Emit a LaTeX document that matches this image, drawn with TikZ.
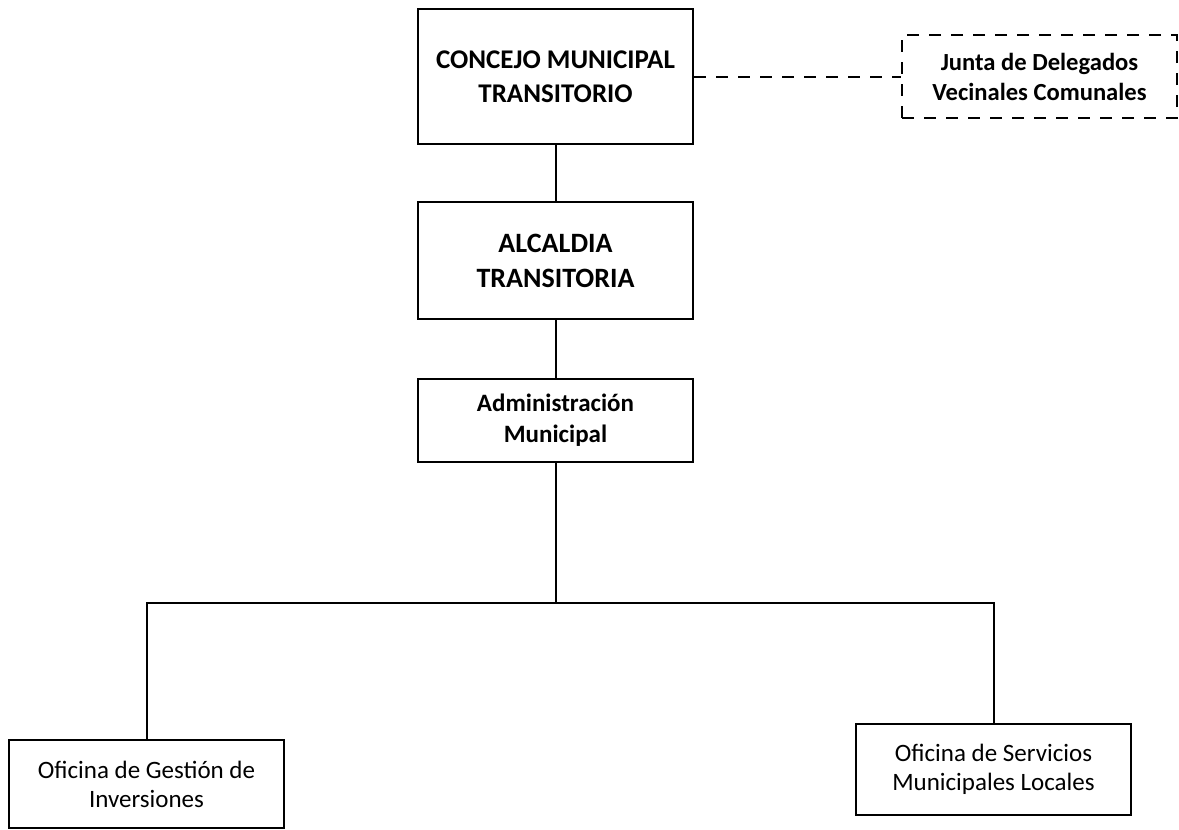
\documentclass[tikz,border=0pt]{standalone}
\usepackage{fontspec}
\setmainfont{Carlito}
\usetikzlibrary{positioning}

\begin{document}
\begin{tikzpicture}[x=0.5pt,y=-0.5pt]
\tikzset{B/.style={draw,line width=1pt,rectangle,minimum width=137.5pt,align=center,inner sep=0pt,font=\bfseries\fontsize{13.5}{17}\selectfont}}
\tikzset{S/.style={B,font=\fontsize{12.5}{14.5}\selectfont}}
\tikzset{J/.style={B,dash pattern=on 6pt off 5pt,font=\bfseries\fontsize{12.3}{15}\selectfont}}

  \useasboundingbox (0,0) rectangle (1179,830);
  \node[B,minimum height=67.5pt] (conc) at (555.5,76.5) {CONCEJO MUNICIPAL\\TRANSITORIO};
  \node[J,minimum height=41.5pt] (junta) at (1039.5,76.5) {Junta de Delegados\\Vecinales Comunales};
  \node[B,minimum height=58.5pt,font=\bfseries\fontsize{14}{17.5}\selectfont] (alc) at (555.5,260.5) {ALCALDIA\\TRANSITORIA};
  \node[B,minimum height=41.5pt,font=\bfseries\fontsize{12.5}{15.5}\selectfont] (adm) at (555.5,420.5) {Administración\\Municipal};
  \node[S,minimum height=44pt] (gest) at (146.5,784) {Oficina de Gestión de\\Inversiones};
  \node[S,minimum height=45.5pt] (serv) at (993.5,769.5) {Oficina de Servicios\\Municipales Locales};
  \coordinate (bar) at (555.5,603);

  \draw[line width=1pt] (conc) -- (alc);
  \draw[line width=1pt] (alc) -- (adm);
  \draw[line width=1pt,dash pattern=on 6pt off 5pt] (conc) -- (junta);
  \draw[line width=1pt] (adm) -- (bar);
  \draw[line width=1pt] (gest.north) |- (bar) -| (serv.north);
\end{tikzpicture}
\end{document}
